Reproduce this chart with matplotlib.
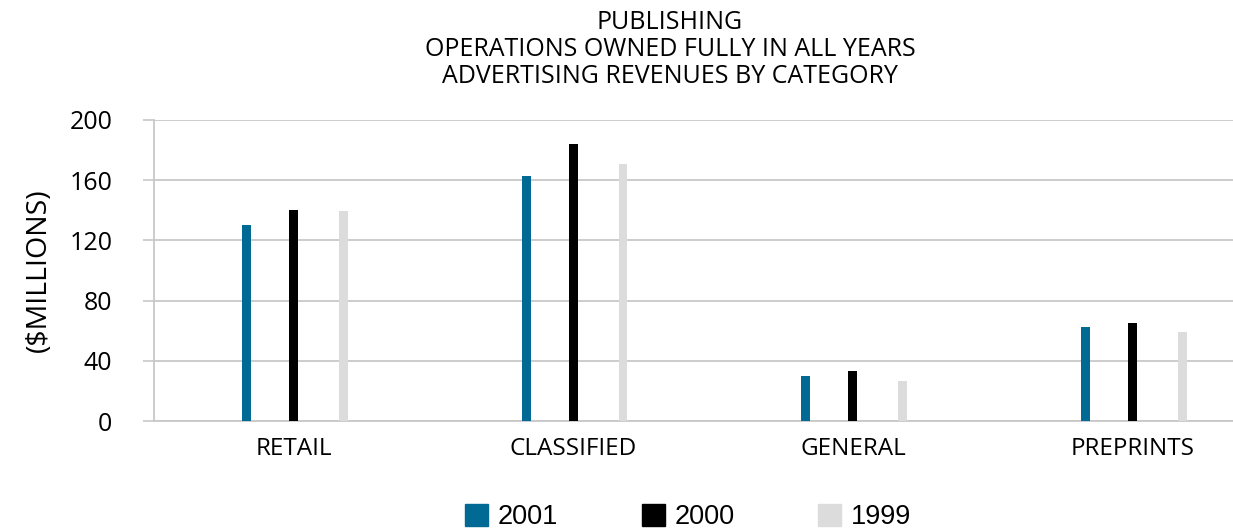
import numpy as np
import matplotlib.pyplot as plt
from matplotlib.patches import Patch

categories = ["RETAIL", "CLASSIFIED", "GENERAL", "PREPRINTS"]
years = ["2001", "2000", "1999"]
v2001 = [130, 162.5, 30, 62.5]
v2000 = [140, 184, 33.5, 65]
v1999 = [139.5, 170.5, 27, 59]
colors = ["#006a95", "#000000", "#dcdcdc"]
offsets = [-0.168, 0.0, 0.178]

plt.rcParams['font.family'] = ['Open Sans', 'DejaVu Sans']

fig = plt.figure(figsize=(12.33, 5.29), dpi=100)
ax = fig.add_axes([154 / 1233, 107.7 / 529, 1079 / 1233, 301.5 / 529])

x = np.arange(len(categories))
for vals, col, off in zip([v2001, v2000, v1999], colors, offsets):
    ax.bar(x + off, vals, width=0.032, color=col, zorder=3)

ax.set_xlim(-0.499, 3.359)
ax.set_ylim(0, 200)
ax.set_yticks([0, 40, 80, 120, 160, 200])
ax.set_xticks(x)
ax.set_xticklabels(categories, fontsize=17.5)
ax.tick_params(axis='x', length=0, pad=11)
ax.tick_params(axis='y', labelsize=18, length=8, width=1.2,
               color='#c8c8c8', pad=22)
ax.grid(axis='y', color='#c8c8c8', linewidth=1.3, zorder=0)
for s in ['top', 'right']:
    ax.spines[s].set_visible(False)
for s in ['left', 'bottom']:
    ax.spines[s].set_color('#c8c8c8')
    ax.spines[s].set_linewidth(1.3)

ax.set_ylabel("($MILLIONS)", fontsize=20.5, labelpad=12)

fig.text(670 / 1233, 1 - 10 / 529,
         "PUBLISHING\nOPERATIONS OWNED FULLY IN ALL YEARS\nADVERTISING REVENUES BY CATEGORY",
         ha='center', va='top', fontsize=18, linespacing=1.1)

handles = [Patch(color=c) for c in colors]
fig.legend(handles, years, loc='center', bbox_to_anchor=(0.558, 0.022),
           ncol=3, frameon=False, prop={'family': 'Liberation Sans', 'size': 19.5},
           handlelength=0.85, handleheight=0.85, handletextpad=0.35,
           columnspacing=3.1)

fig.savefig("out.png", dpi=100)
